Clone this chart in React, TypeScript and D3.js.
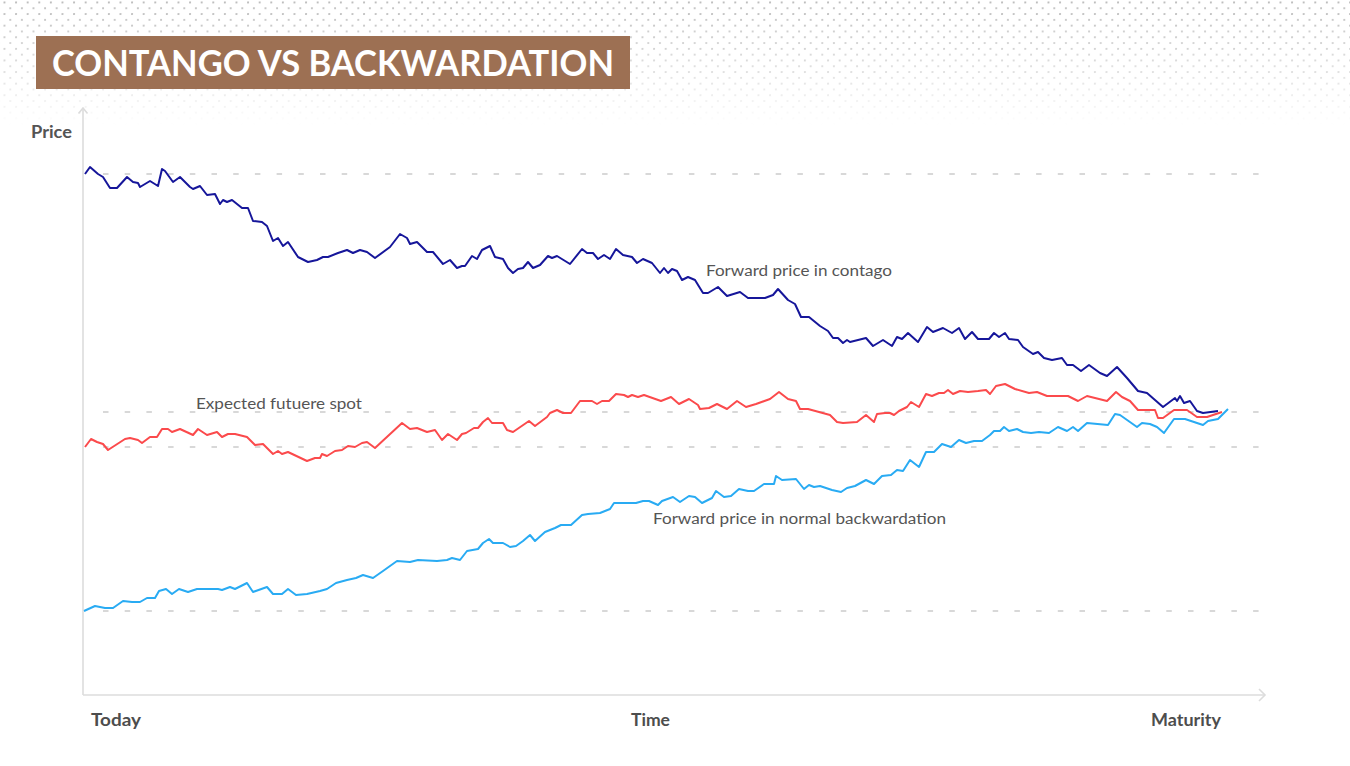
import React from "react";
import * as d3 from "d3";

// ---- Data (time since today, price) ----
const timeDomain: [number, number] = [0, 1182];
const priceDomain: [number, number] = [0, 587];

const gridPrices = [521, 283, 248, 84];

const contango: [number, number][] = [
  [2,521],[7,528],[15,521],[20,518],[27,507],[34,507],[44,518],[50,513],[55,512],[57,508],
  [67,514],[75,509],[79,526],[82,524],[90,513],[97,518],[107,508],[110,506],[117,509],[124,500],
  [132,501],[137,491],[140,495],[144,493],[149,495],[159,487],[165,487],[170,474],[179,473],[184,469],
  [190,454],[195,457],[200,449],[205,453],[215,438],[225,433],[234,435],[240,438],[245,438],[255,442],
  [264,445],[270,442],[277,445],[284,443],[292,437],[307,448],[317,461],[324,457],[327,451],[334,453],
  [344,443],[350,443],[360,431],[367,435],[374,427],[379,429],[382,429],[389,439],[394,436],[399,445],
  [407,449],[412,438],[420,436],[425,427],[430,422],[435,426],[440,427],[445,433],[450,427],[457,430],
  [465,439],[469,437],[474,439],[487,431],[499,446],[504,442],[510,442],[515,436],[521,440],[527,436],
  [533,446],[540,440],[549,438],[554,432],[560,436],[569,432],[577,422],[581,427],[585,422],[589,426],
  [594,424],[599,415],[605,418],[612,415],[620,402],[625,402],[635,408],[644,399],[657,403],[665,397],
  [682,397],[690,400],[695,406],[705,395],[712,391],[718,378],[726,378],[737,369],[745,364],[750,357],
  [755,357],[760,352],[764,355],[767,353],[783,357],[790,349],[800,355],[809,349],[814,358],[819,356],
  [825,362],[835,353],[844,368],[850,363],[860,367],[869,362],[876,367],[882,356],[889,363],[895,356],
  [906,356],[911,362],[916,358],[922,362],[926,356],[935,355],[940,348],[950,341],[955,343],[961,337],
  [969,335],[979,337],[984,330],[990,330],[998,324],[1006,330],[1017,322],[1024,319],[1034,328],[1044,317],
  [1055,304],[1064,302],[1080,288],[1092,297],[1094,294],[1097,299],[1101,292],[1107,294],[1114,284],[1120,282],
  [1135,284],
];

const expectedSpot: [number, number][] = [
  [2,248],[8,256],[14,253],[20,251],[25,245],[42,256],[47,257],[55,255],[59,252],[67,258],
  [74,258],[79,266],[85,266],[89,263],[97,266],[110,260],[115,266],[124,260],[134,263],[139,258],
  [145,261],[152,261],[164,258],[172,250],[180,251],[190,241],[195,244],[199,241],[205,243],[224,234],
  [232,237],[237,237],[239,241],[244,239],[252,244],[259,245],[265,249],[272,248],[279,252],[284,253],
  [292,247],[319,272],[327,266],[334,267],[344,263],[352,265],[359,255],[365,261],[374,255],[379,261],
  [383,262],[391,267],[395,267],[400,273],[405,277],[409,272],[420,272],[424,265],[430,263],[446,274],
  [452,269],[464,278],[467,282],[474,285],[480,282],[488,282],[497,294],[509,294],[514,291],[519,294],
  [526,294],[533,301],[541,300],[545,298],[549,300],[555,298],[561,300],[578,294],[588,298],[596,291],
  [606,296],[615,290],[617,286],[626,287],[634,291],[644,286],[654,294],[663,288],[673,291],[687,296],
  [696,303],[705,296],[713,294],[717,286],[725,286],[747,280],[754,273],[760,272],[774,273],[783,280],
  [791,273],[794,281],[802,282],[807,282],[811,280],[816,284],[824,288],[828,293],[836,288],[843,301],
  [849,299],[856,302],[861,302],[865,305],[870,301],[877,304],[885,303],[895,304],[903,305],[907,301],
  [913,309],[922,311],[932,306],[946,302],[954,303],[964,299],[974,299],[985,299],[995,294],[1004,299],
  [1024,294],[1033,303],[1039,298],[1047,294],[1055,285],[1072,285],[1075,277],[1080,277],[1091,285],[1104,285],
  [1114,278],[1124,278],[1139,283],
];

const backwardation: [number, number][] = [
  [1,84],[12,89],[22,87],[30,87],[40,94],[49,93],[57,93],[64,97],[72,97],[76,104],
  [83,106],[89,101],[96,106],[105,103],[114,106],[135,106],[139,105],[147,108],[152,106],[164,112],
  [170,103],[184,108],[190,101],[199,101],[205,106],[213,100],[224,101],[237,104],[244,106],[253,112],
  [264,115],[273,117],[280,120],[290,117],[300,124],[314,134],[327,133],[335,135],[354,134],[364,135],
  [369,137],[377,135],[384,144],[395,146],[400,152],[406,156],[410,152],[420,152],[427,148],[433,149],
  [440,154],[447,160],[452,154],[462,163],[472,167],[478,170],[488,170],[499,180],[505,181],[517,182],
  [527,186],[531,192],[553,192],[560,194],[566,194],[575,190],[579,194],[590,198],[597,193],[606,199],
  [612,198],[619,192],[629,197],[633,204],[641,198],[648,199],[656,206],[665,204],[671,204],[681,211],
  [691,211],[693,219],[699,215],[713,216],[721,206],[726,210],[731,208],[737,209],[749,205],[758,203],
  [764,207],[772,209],[783,215],[791,211],[799,219],[808,220],[814,225],[820,224],[827,235],[836,228],
  [843,243],[851,243],[859,251],[868,248],[876,255],[883,252],[891,254],[899,254],[907,260],[911,264],
  [917,264],[921,268],[926,264],[934,266],[940,263],[948,262],[956,263],[966,262],[975,268],[984,264],
  [990,268],[995,264],[1004,272],[1025,270],[1032,281],[1037,280],[1054,268],[1059,272],[1067,271],[1074,268],
  [1081,262],[1091,276],[1102,276],[1120,270],[1125,274],[1135,276],[1145,286],
];

const xLabels = ["Today", "Time", "Maturity"];
const xLabelTimes = [8, 567.5, 1103];
const xLabelAnchors = ["start", "middle", "middle"];
const xLabelWidths = [50, 39, 70];

const annotations = [
  { text: "Forward price in contago", t: 623, p: 419, len: 186 },
  { text: "Expected futuere spot", t: 113, p: 286, len: 166 },
  { text: "Forward price in normal backwardation", t: 570, p: 171, len: 293 },
];

const COLORS = { contango: "#16169a", spot: "#fb4a4c", back: "#29abf3" };

export default function App() {
  const W = 1350, H = 766;
  const x = d3.scaleLinear().domain(timeDomain).range([83, 1265]);
  const y = d3.scaleLinear().domain(priceDomain).range([695, 108]);
  const line = d3.line<[number, number]>().x(d => x(d[0])).y(d => y(d[1]));
  const font = "Lato, 'Open Sans', sans-serif";
  const axisColor = "#dcdcdc";

  return (
    <svg width={W} height={H} style={{ position: "absolute", left: 0, top: 0, background: "#fff" }}>
      <defs>
        <pattern id="dots" width={11.6} height={11.6} patternUnits="userSpaceOnUse" x={3.5} y={1.5}>
          <circle cx={1} cy={1} r={1.05} fill="#b4b4b4" />
          <circle cx={6.8} cy={6.8} r={1.05} fill="#b4b4b4" />
        </pattern>
        <linearGradient id="fade" x1="0" y1="0" x2="0" y2="1">
          <stop offset="0" stopColor="#fff" stopOpacity={1} />
          <stop offset="0.55" stopColor="#fff" stopOpacity={0.5} />
          <stop offset="1" stopColor="#fff" stopOpacity={0} />
        </linearGradient>
        <mask id="fadeMask">
          <rect x={0} y={0} width={W} height={125} fill="url(#fade)" />
        </mask>
      </defs>
      <rect x={0} y={0} width={W} height={125} fill="url(#dots)" mask="url(#fadeMask)" />

      {/* Title */}
      <rect x={36} y={36} width={594} height={53} fill="#9d7053" />
      <text x={333} y={76} textAnchor="middle" fill="#fff" fontFamily={font} fontWeight={700}
        fontSize={36} textLength={562} lengthAdjust="spacingAndGlyphs">CONTANGO VS BACKWARDATION</text>

      {/* Grid lines */}
      {gridPrices.map((p, i) => (
        <line key={i} x1={103} x2={1268} y1={y(p)} y2={y(p)} stroke="#cbcbcb" strokeWidth={1.7}
          strokeDasharray="5.5 16.2" />
      ))}

      {/* Axes */}
      <line x1={x(0)} x2={x(0)} y1={y(priceDomain[1])} y2={y(0)} stroke={axisColor} strokeWidth={1.6} />
      <line x1={x(0)} x2={x(timeDomain[1])} y1={y(0)} y2={y(0)} stroke={axisColor} strokeWidth={1.6} />
      <path d={`M${x(0) - 4.5},${y(priceDomain[1]) + 5.5} L${x(0)},${y(priceDomain[1])} L${x(0) + 4.5},${y(priceDomain[1]) + 5.5}`}
        fill="none" stroke={axisColor} strokeWidth={1.6} />
      <path d={`M${x(timeDomain[1]) - 6},${y(0) - 6} L${x(timeDomain[1])},${y(0)} L${x(timeDomain[1]) - 6},${y(0) + 6}`}
        fill="none" stroke={axisColor} strokeWidth={1.6} />

      {/* Axis labels */}
      <text x={31} y={138} fontFamily={font} fontWeight={700} fontSize={16.5} fill="#545454"
        textLength={41} lengthAdjust="spacingAndGlyphs">Price</text>
      {xLabels.map((l, i) => (
        <text key={l} x={x(xLabelTimes[i])} y={726} textAnchor={xLabelAnchors[i] as any} fontFamily={font}
          fontWeight={700} fontSize={16.5} fill="#4d4d4d" textLength={xLabelWidths[i]}
          lengthAdjust="spacingAndGlyphs">{l}</text>
      ))}

      {/* Series */}
      <path d={line(backwardation) || ""} fill="none" stroke={COLORS.back} strokeWidth={2} strokeLinejoin="round" />
      <path d={line(expectedSpot) || ""} fill="none" stroke={COLORS.spot} strokeWidth={2} strokeLinejoin="round" />
      <path d={line(contango) || ""} fill="none" stroke={COLORS.contango} strokeWidth={2} strokeLinejoin="round" />

      {/* Annotations */}
      {annotations.map(a => (
        <text key={a.text} x={x(a.t)} y={y(a.p)} fontFamily={font} fontSize={14.5} fill="#555"
          textLength={a.len} lengthAdjust="spacingAndGlyphs">{a.text}</text>
      ))}
    </svg>
  );
}
